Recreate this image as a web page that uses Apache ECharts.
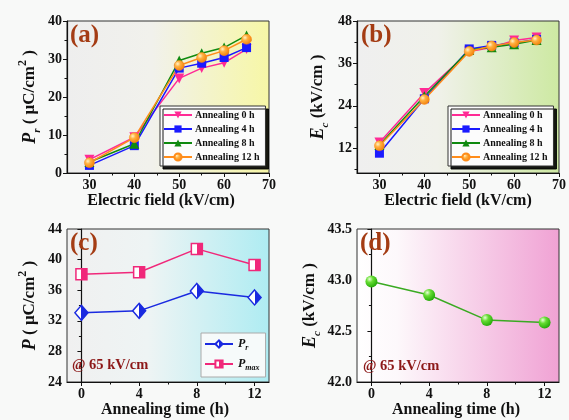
<!DOCTYPE html>
<html><head><meta charset="utf-8">
<script src="https://cdn.jsdelivr.net/npm/echarts@6/dist/echarts.min.js"></script>
<style>html,body{margin:0;padding:0;background:#f8f9f8;}#c{width:569px;height:420px;}</style>
</head><body><div id="c"></div>
<script>
// ---- data ----
const fieldE = [30, 40, 50, 55, 60, 65];
const prA0  = [3.5, 9.4, 24.9, 27.6, 29.0, 32.6];
const prA4  = [2.0, 7.2, 27.6, 28.9, 30.4, 33.0];
const prA8  = [2.9, 7.7, 29.6, 31.5, 33.0, 36.2];
const prA12 = [2.7, 9.3, 28.3, 30.4, 32.2, 35.2];
const ecB0  = [13.6, 27.6, 39.4, 40.5, 42.5, 43.3];
const ecB4  = [10.6, 26.0, 40.1, 41.1, 41.8, 42.8];
const ecB8  = [12.9, 26.7, 39.8, 40.6, 41.4, 42.6];
const ecB12 = [12.7, 25.8, 39.4, 40.9, 41.9, 42.6];
const annealT = [0, 4, 8, 12];
const prC   = [33.05, 33.3, 35.9, 35.05];
const pmaxC = [38.1, 38.35, 41.4, 39.3];
const ecD   = [42.985, 42.853, 42.607, 42.584];
const seriesNames = ['Annealing 0 h', 'Annealing 4 h', 'Annealing 8 h', 'Annealing 12 h'];
const ticksE = [30, 40, 50, 60, 70];
const minorE = [35, 45, 55, 65];
const ticksT = [0, 4, 8, 12];
const minorT = [2, 6, 10];
const ticksEcB = [12, 24, 36, 48];
const minorEcB = [6, 18, 30, 42];

const FF = 'Liberation Serif';
const chart = echarts.init(document.getElementById('c'));
const pairs = (xs, ys) => xs.map((x, i) => [x, ys[i]]);

const grad = (stops) => ({type: 'linear', x: 0, y: 0, x2: 1, y2: 0, colorStops: stops.map(s => ({offset: s[0], color: s[1]}))});
const grids = [
  {left: 67, top: 21, width: 202, height: 152, bg: grad([[0, '#eeeeee'], [0.42, '#f1f1ec'], [1, '#f7f7a6']])},
  {left: 357, top: 21, width: 202, height: 152, bg: grad([[0, '#efefef'], [0.4, '#f0f1ea'], [1, '#cde9a2']])},
  {left: 67, top: 229, width: 202, height: 153, bg: grad([[0, '#f0f0f0'], [0.4, '#eef4f4'], [1, '#aeecf2']])},
  {left: 357, top: 229, width: 202, height: 153, bg: grad([[0, '#ffffff'], [0.2, '#fdf8fb'], [1, '#f0a2d4']])}
].map(g => ({left: g.left, top: g.top, width: g.width, height: g.height, show: true,
  backgroundColor: g.bg, borderColor: '#333', borderWidth: 1}));

const lblStyle = {fontFamily: FF, fontWeight: 'bold', fontSize: 14, color: '#111'};
const richName = {
  n: {fontFamily: FF, fontWeight: 'bold', fontSize: 17, color: '#111', lineHeight: 26},
  i: {fontFamily: FF, fontWeight: 'bold', fontStyle: 'italic', fontSize: 18, color: '#111', lineHeight: 26},
  sub: {fontFamily: FF, fontWeight: 'bold', fontStyle: 'italic', fontSize: 11, color: '#111', lineHeight: 12, verticalAlign: 'bottom'},
  sup: {fontFamily: FF, fontWeight: 'bold', fontSize: 12, color: '#111', lineHeight: 12, verticalAlign: 'top'}
};
const axLine = {show: true, lineStyle: {color: '#111', width: 1.2}};

function mainX(gi, min, max, ticks, name, pad) {
  return {type: 'value', gridIndex: gi, min: min, max: max, position: 'bottom',
    axisLine: axLine, splitLine: {show: false},
    axisTick: {show: true, length: 4, customValues: ticks, lineStyle: {color: '#111'}},
    axisLabel: {customValues: ticks, margin: 5, ...lblStyle},
    name: name, nameLocation: 'middle', nameGap: 19,
    nameTextStyle: {fontFamily: FF, fontWeight: 'bold', fontSize: 16, color: '#111', padding: pad || 0}};
}
function minorX(gi, min, max, ticks) {
  return {type: 'value', gridIndex: gi, min: min, max: max, position: 'bottom', offset: 0,
    axisLine: {show: false}, splitLine: {show: false}, axisLabel: {show: false},
    axisTick: {show: true, length: 2.5, customValues: ticks, lineStyle: {color: '#111'}}};
}
function mainY(gi, opts, name, gap) {
  return Object.assign({type: 'value', gridIndex: gi, position: 'left',
    axisLine: axLine, splitLine: {show: false},
    axisTick: {show: true, length: 4, lineStyle: {color: '#111'}},
    minorTick: {show: true, splitNumber: 2, length: 2.5, lineStyle: {color: '#111'}},
    axisLabel: {margin: 5, ...lblStyle},
    name: name, nameLocation: 'middle', nameRotate: 90, nameGap: gap,
    nameTextStyle: {rich: richName}}, opts);
}

const xAxis = [
  mainX(0, 25, 70, ticksE, 'Electric field (kV/cm)', [0, 14, 0, 0]),
  mainX(1, 25, 70, ticksE, 'Electric field (kV/cm)'),
  mainX(2, -1, 13, ticksT, 'Annealing time (h)', [0, 6, 0, 0]),
  mainX(3, -1, 13, ticksT, 'Annealing time (h)', [0, 4, 0, 0]),
  minorX(0, 25, 70, minorE),
  minorX(1, 25, 70, minorE),
  minorX(2, -1, 13, minorT),
  minorX(3, -1, 13, minorT)
];
const yAxis = [
  mainY(0, {min: 0, max: 40, interval: 10}, '{i|P}{sub|r}{n| ( μC/cm}{sup|2}{n| )}', 24),
  mainY(1, {min: 5, max: 48, minorTick: {show: false},
    axisTick: {show: true, length: 4, customValues: ticksEcB, lineStyle: {color: '#111'}},
    axisLabel: {customValues: ticksEcB, margin: 5, ...lblStyle}}, '{i|E}{sub|c}{n| (kV/cm )}', 26),
  mainY(2, {min: 24, max: 44, interval: 4}, '{i|P}{n| ( μC/cm}{sup|2}{n| )}', 24),
  mainY(3, {min: 42, max: 43.5, interval: 0.5,
    axisLabel: {margin: 5, ...lblStyle, formatter: v => v.toFixed(1)}}, '{i|E}{sub|c}{n| (kV/cm )}', 34),
  {type: 'value', gridIndex: 1, min: 5, max: 48, position: 'left', offset: 0,
    axisLine: {show: false}, splitLine: {show: false}, axisLabel: {show: false},
    axisTick: {show: true, length: 2.5, customValues: minorEcB, lineStyle: {color: '#111'}}}
];

const orangeBall = {type: 'radial', x: 0.35, y: 0.35, r: 0.75,
  colorStops: [{offset: 0, color: '#fff2c8'}, {offset: 0.35, color: '#ffb040'}, {offset: 1, color: '#f07800'}]};
const greenBall = {type: 'radial', x: 0.35, y: 0.3, r: 0.8,
  colorStops: [{offset: 0, color: '#e8ffd8'}, {offset: 0.35, color: '#66dd33'}, {offset: 1, color: '#18a000'}]};
const styles = [
  {color: '#ff2a95', symbol: 'triangle', rot: 180, fill: '#ff2a95'},
  {color: '#1a1aff', symbol: 'rect', rot: 0, fill: '#1a1aff'},
  {color: '#0f8a0f', symbol: 'triangle', rot: 0, fill: '#0f8a0f'},
  {color: '#ff8c1a', symbol: 'circle', rot: 0, fill: orangeBall}
];
const dataA = [prA0, prA4, prA8, prA12];
const dataB = [ecB0, ecB4, ecB8, ecB12];
const series = [];
[[dataA, 0], [dataB, 1]].forEach(([set, gi]) => {
  set.forEach((ys, k) => {
    const st = styles[k];
    series.push({type: 'line', name: seriesNames[k], xAxisIndex: gi, yAxisIndex: gi,
      data: pairs(fieldE, ys), symbol: st.symbol, symbolRotate: st.rot,
      symbolSize: st.symbol === 'rect' ? 9 : 10, silent: true, animation: false,
      lineStyle: {color: st.color, width: 1.5},
      itemStyle: {color: st.fill, borderColor: st.color, borderWidth: st.symbol === 'circle' ? 0.5 : 0}});
  });
});
const half = c => ({type: 'linear', x: 0, y: 0, x2: 1, y2: 0, colorStops: [
  {offset: 0, color: '#ffffff'}, {offset: 0.5, color: '#ffffff'}, {offset: 0.5, color: c}, {offset: 1, color: c}]});
series.push({type: 'line', name: 'Pr', xAxisIndex: 2, yAxisIndex: 2, data: pairs(annealT, prC),
  symbol: 'diamond', symbolSize: [13, 15], silent: true, animation: false,
  lineStyle: {color: '#1a2ae0', width: 1.5},
  itemStyle: {color: half('#1a2ae0'), borderColor: '#1a2ae0', borderWidth: 1.5}});
series.push({type: 'line', name: 'Pmax', xAxisIndex: 2, yAxisIndex: 2, data: pairs(annealT, pmaxC),
  symbol: 'rect', symbolSize: 11, silent: true, animation: false,
  lineStyle: {color: '#f0287a', width: 1.5},
  itemStyle: {color: half('#f0287a'), borderColor: '#f0287a', borderWidth: 1.5}});
series.push({type: 'line', name: 'Ec', xAxisIndex: 3, yAxisIndex: 3, data: pairs(annealT, ecD),
  symbol: 'circle', symbolSize: 12, silent: true, animation: false,
  lineStyle: {color: '#3aaa22', width: 1.5},
  itemStyle: {color: greenBall}});

const legBase = {orient: 'vertical', itemWidth: 28, itemHeight: 9, itemGap: 4,
  backgroundColor: '#fcfcfc', borderColor: '#333', borderWidth: 1,
  shadowColor: 'rgba(0,0,0,0.9)', shadowBlur: 0, shadowOffsetX: 3, shadowOffsetY: 3,
  padding: [4, 6, 4, 3], selectedMode: false,
  textStyle: {fontFamily: FF, fontWeight: 'bold', fontSize: 10, color: '#111', padding: [0, 0, 0, -2]}};
const legend = [
  Object.assign({}, legBase, {left: 160, top: 106, data: seriesNames}),
  Object.assign({}, legBase, {left: 448, top: 106, data: seriesNames}),
  Object.assign({}, legBase, {left: 201, top: 333, data: ['Pr', 'Pmax'], itemGap: 6,
    shadowColor: 'transparent', borderColor: '#aaa', backgroundColor: '#f6fafa', padding: [5, 6, 5, 3],
    formatter: n => n === 'Pr' ? '{i|P}{s|r}' : '{i|P}{s|max}',
    textStyle: {rich: {
      i: {fontFamily: FF, fontWeight: 'bold', fontStyle: 'italic', fontSize: 12, color: '#111', lineHeight: 16},
      s: {fontFamily: FF, fontWeight: 'bold', fontStyle: 'italic', fontSize: 8, color: '#111', lineHeight: 9, verticalAlign: 'bottom'}}}})
];

const tag = (txt, x, y) => ({type: 'text', left: x, top: y, z: 100,
  style: {text: txt, fontFamily: FF, fontWeight: 'bold', fontSize: 25, fill: '#a43c14'}});
const at = (x, y) => ({type: 'text', left: x, top: y, z: 100,
  style: {text: '@ 65 kV/cm', fontFamily: FF, fontWeight: 'bold', fontSize: 14.5, fill: '#8c1818'}});

chart.setOption({
  backgroundColor: '#f8f9f8',
  animation: false,
  grid: grids, xAxis: xAxis, yAxis: yAxis, series: series, legend: legend,
  graphic: [tag('(a)', 70, 23), tag('(b)', 361, 23), tag('(c)', 70, 231), tag('(d)', 360, 231),
    at(72, 358), at(363, 359)]
});
</script></body></html>
